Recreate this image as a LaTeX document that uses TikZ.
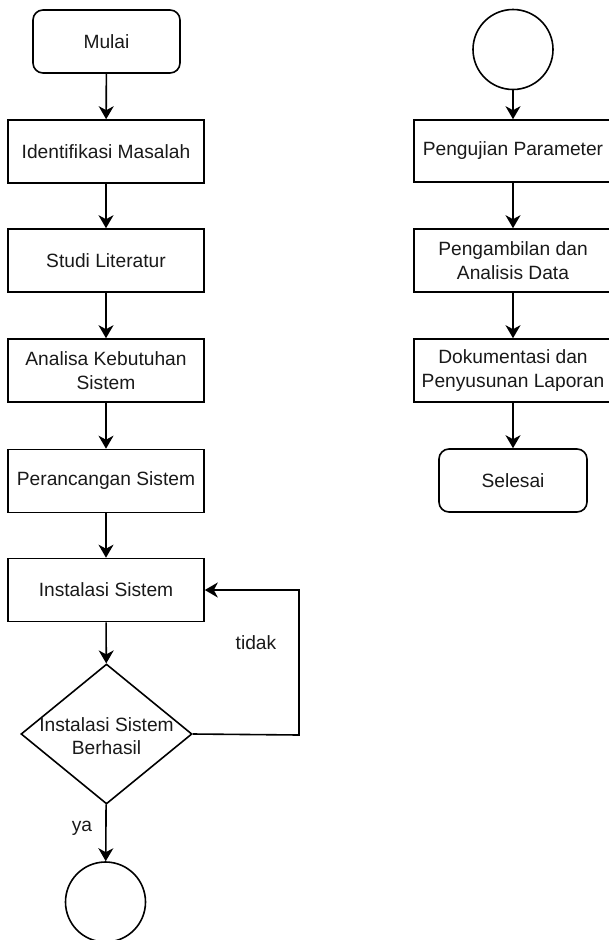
\documentclass[tikz,border=0pt]{standalone}
\usepackage{fontspec}
\setmainfont{Liberation Sans}
\usetikzlibrary{arrows.meta,shapes.geometric}
\begin{document}
\begin{tikzpicture}[x=1pt,y=-1pt,
  every node/.style={font=\fontsize{19.2}{23.5}\selectfont, text=black!90, align=center},
  box/.style={draw, line width=1.6pt, minimum width=196pt, minimum height=63pt, inner sep=0pt},
  term/.style={box, rounded corners=10pt, minimum width=147pt},
  conn/.style={draw, line width=1.6pt, circle, minimum size=80pt, inner sep=0pt},
  dia/.style={draw, line width=1.6pt, diamond, minimum width=171pt, minimum height=140pt, inner sep=0pt},
  arr/.style={draw, line width=1.6pt, -{Stealth[length=13pt,width=15pt,inset=4pt]}}
]
\useasboundingbox (0,0) rectangle (609,940);
% left column
\node[term] (mulai) at (106.5,41.5) {Mulai};
\node[box] (ident) at (106,151.5) {Identifikasi Masalah};
\node[box] (studi) at (106,260.5) {Studi Literatur};
\node[box] (anal) at (106,370.5) {Analisa Kebutuhan\\Sistem};
\node[box] (peran) at (106,481) {Perancangan Sistem};
\node[box] (inst) at (106,590) {Instalasi Sistem};
\node[dia] (dec) at (106.5,734) {};
\node (dectext) at (106.5,736) {Instalasi Sistem\\Berhasil};
\node[conn] (conA) at (105.5,902) {};
\node (tidak) at (256,643) {tidak};
\node (ya) at (82,828) {ya};
\coordinate (lp1) at (299,735);
\coordinate (lp2) at (299,590);
% right column
\node[conn] (conB) at (513,49.5) {};
\node[box, minimum width=198pt, minimum height=62pt] (uji) at (513,151) {Pengujian Parameter};
\node[box, minimum width=198pt] (ambil) at (513,260.5) {Pengambilan dan\\Analisis Data};
\node[box, minimum width=198pt] (dok) at (513,370.5) {Dokumentasi dan\\Penyusunan Laporan};
\node[term, minimum width=148pt] (selesai) at (513,480.5) {Selesai};
% connectors
\path[arr] (mulai) -- (ident);
\path[arr] (ident) -- (studi);
\path[arr] (studi) -- (anal);
\path[arr] (anal) -- (peran);
\path[arr] (peran) -- (inst);
\path[arr] (inst) -- (dec);
\path[arr] (dec) -- (conA);
\path[arr] (dec.east) -- (lp1) -- (lp2) -- (inst.east);
\path[arr] (conB) -- (uji);
\path[arr] (uji) -- (ambil);
\path[arr] (ambil) -- (dok);
\path[arr] (dok) -- (selesai);
\end{tikzpicture}
\end{document}
